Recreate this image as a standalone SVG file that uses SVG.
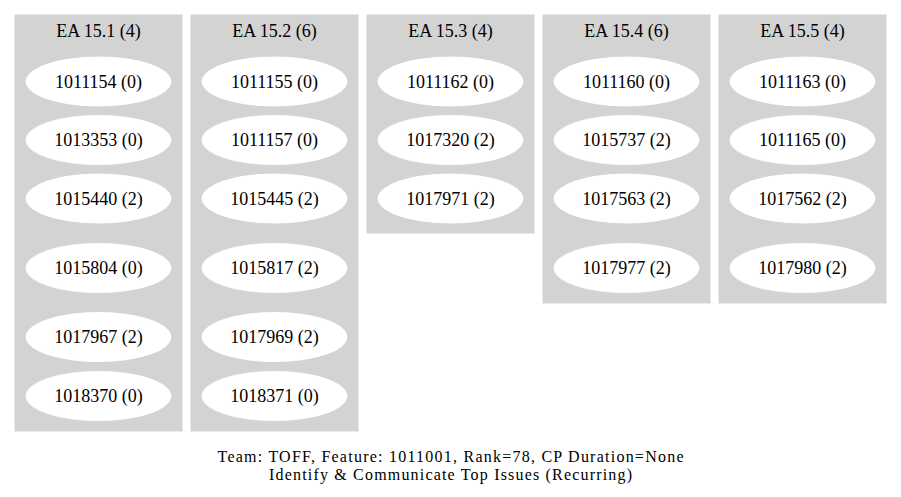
<svg xmlns="http://www.w3.org/2000/svg" width="901" height="497" viewBox="0 0 901 497">
<style>
  .bg { fill: #ffffff; }
  .cluster rect { fill: #d3d3d3; stroke: #d3d3d3; stroke-width: 1; }
  .node ellipse { fill: #ffffff; stroke: #ffffff; stroke-width: 1; }
  text { font-family: "Liberation Serif", "Times New Roman", serif; font-size: 18px; fill: #000000; text-anchor: middle; }
  .glabel { font-size: 16px; }
</style>
<rect class="bg" x="0" y="0" width="901" height="497"/>

<g id="cluster_ea151" class="cluster">
  <rect x="15" y="15" width="167" height="416"/>
  <text x="98.5" y="37">EA 15.1 (4)</text>
</g>
<g id="cluster_ea152" class="cluster">
  <rect x="191" y="15" width="167" height="416"/>
  <text x="274.5" y="37">EA 15.2 (6)</text>
</g>
<g id="cluster_ea153" class="cluster">
  <rect x="367" y="15" width="167" height="218"/>
  <text x="450.5" y="37">EA 15.3 (4)</text>
</g>
<g id="cluster_ea154" class="cluster">
  <rect x="543" y="15" width="167" height="288"/>
  <text x="626.5" y="37">EA 15.4 (6)</text>
</g>
<g id="cluster_ea155" class="cluster">
  <rect x="719" y="15" width="167" height="288"/>
  <text x="802.5" y="37">EA 15.5 (4)</text>
</g>

<g id="connectors"></g>

<g id="n1011154" class="node"><ellipse cx="98.5" cy="81.5" rx="72.5" ry="24.5"/><text x="98.5" y="87.5">1011154 (0)</text></g>
<g id="n1013353" class="node"><ellipse cx="98.5" cy="140" rx="72.5" ry="24.5"/><text x="98.5" y="146">1013353 (0)</text></g>
<g id="n1015440" class="node"><ellipse cx="98.5" cy="198.5" rx="72.5" ry="24.5"/><text x="98.5" y="204.5">1015440 (2)</text></g>
<g id="n1015804" class="node"><ellipse cx="98.5" cy="268" rx="72.5" ry="24.5"/><text x="98.5" y="274">1015804 (0)</text></g>
<g id="n1017967" class="node"><ellipse cx="98.5" cy="337" rx="72.5" ry="24.5"/><text x="98.5" y="343">1017967 (2)</text></g>
<g id="n1018370" class="node"><ellipse cx="98.5" cy="396" rx="72.5" ry="24.5"/><text x="98.5" y="402">1018370 (0)</text></g>

<g id="n1011155" class="node"><ellipse cx="274.5" cy="81.5" rx="72.5" ry="24.5"/><text x="274.5" y="87.5">1011155 (0)</text></g>
<g id="n1011157" class="node"><ellipse cx="274.5" cy="140" rx="72.5" ry="24.5"/><text x="274.5" y="146">1011157 (0)</text></g>
<g id="n1015445" class="node"><ellipse cx="274.5" cy="198.5" rx="72.5" ry="24.5"/><text x="274.5" y="204.5">1015445 (2)</text></g>
<g id="n1015817" class="node"><ellipse cx="274.5" cy="268" rx="72.5" ry="24.5"/><text x="274.5" y="274">1015817 (2)</text></g>
<g id="n1017969" class="node"><ellipse cx="274.5" cy="337" rx="72.5" ry="24.5"/><text x="274.5" y="343">1017969 (2)</text></g>
<g id="n1018371" class="node"><ellipse cx="274.5" cy="396" rx="72.5" ry="24.5"/><text x="274.5" y="402">1018371 (0)</text></g>

<g id="n1011162" class="node"><ellipse cx="450.5" cy="81.5" rx="72.5" ry="24.5"/><text x="450.5" y="87.5">1011162 (0)</text></g>
<g id="n1017320" class="node"><ellipse cx="450.5" cy="140" rx="72.5" ry="24.5"/><text x="450.5" y="146">1017320 (2)</text></g>
<g id="n1017971" class="node"><ellipse cx="450.5" cy="198.5" rx="72.5" ry="24.5"/><text x="450.5" y="204.5">1017971 (2)</text></g>

<g id="n1011160" class="node"><ellipse cx="626.5" cy="81.5" rx="72.5" ry="24.5"/><text x="626.5" y="87.5">1011160 (0)</text></g>
<g id="n1015737" class="node"><ellipse cx="626.5" cy="140" rx="72.5" ry="24.5"/><text x="626.5" y="146">1015737 (2)</text></g>
<g id="n1017563" class="node"><ellipse cx="626.5" cy="198.5" rx="72.5" ry="24.5"/><text x="626.5" y="204.5">1017563 (2)</text></g>
<g id="n1017977" class="node"><ellipse cx="626.5" cy="268" rx="72.5" ry="24.5"/><text x="626.5" y="274">1017977 (2)</text></g>

<g id="n1011163" class="node"><ellipse cx="802.5" cy="81.5" rx="72.5" ry="24.5"/><text x="802.5" y="87.5">1011163 (0)</text></g>
<g id="n1011165" class="node"><ellipse cx="802.5" cy="140" rx="72.5" ry="24.5"/><text x="802.5" y="146">1011165 (0)</text></g>
<g id="n1017562" class="node"><ellipse cx="802.5" cy="198.5" rx="72.5" ry="24.5"/><text x="802.5" y="204.5">1017562 (2)</text></g>
<g id="n1017980" class="node"><ellipse cx="802.5" cy="268" rx="72.5" ry="24.5"/><text x="802.5" y="274">1017980 (2)</text></g>

<g id="graph_label">
  <text class="glabel" x="450.5" y="461.5" textLength="466" lengthAdjust="spacing">Team: TOFF, Feature: 1011001, Rank=78, CP Duration=None</text>
  <text class="glabel" x="450.5" y="479.5" textLength="363" lengthAdjust="spacing">Identify &amp; Communicate Top Issues (Recurring)</text>
</g>
</svg>
